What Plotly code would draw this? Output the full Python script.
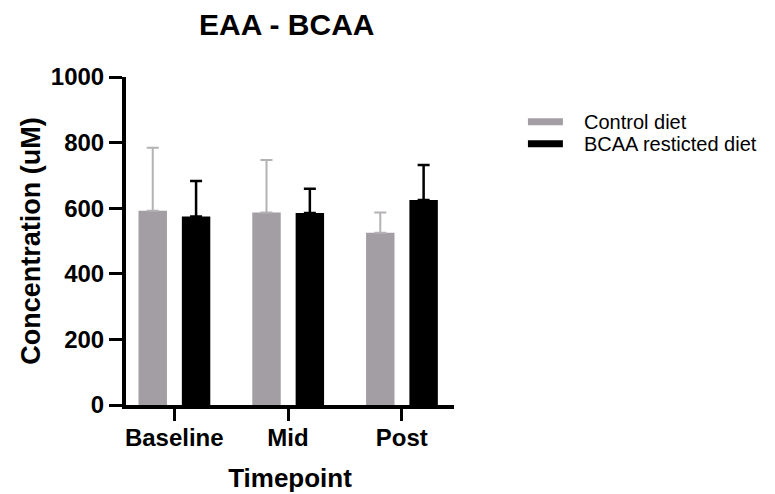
import plotly.graph_objects as go

timepoints = ["Baseline", "Mid", "Post"]
control_mean = [592, 587, 525]
control_err = [192, 160, 62]
bcaa_mean = [575, 585, 625]
bcaa_err = [108, 74, 107]
series_names = ["Control diet", "BCAA resticted diet"]
y_ticks = [0, 200, 400, 600, 800, 1000]

ctrl_color = "#A39EA3"
ctrl_err_color = "#B5B2B5"
bcaa_color = "#000000"
FONT = "Liberation Sans, Arial, sans-serif"

fig = go.Figure()
fig.add_trace(go.Bar(
    x=timepoints, y=control_mean, name=series_names[0], marker_color=ctrl_color,
    marker_line_width=0, showlegend=False, width=0.25, offset=-0.314,
    error_y=dict(type="data", array=control_err, symmetric=False, arrayminus=[0, 0, 0],
                 color=ctrl_err_color, thickness=2, width=6),
))
fig.add_trace(go.Bar(
    x=timepoints, y=bcaa_mean, name=series_names[1], marker_color=bcaa_color,
    marker_line_width=0, showlegend=False, width=0.25, offset=0.067,
    error_y=dict(type="data", array=bcaa_err, symmetric=False, arrayminus=[0, 0, 0],
                 color=bcaa_color, thickness=2.5, width=6),
))

# manual legend (wide rectangular swatches)
L, T, W, H = 125.7, 77.3, 328.3, 328.2
def px(x): return (x - L) / W
def py(y): return (T + H - y) / H
legend_rows = [(series_names[0], ctrl_color, 122), (series_names[1], bcaa_color, 144)]
for nm, col, yc in legend_rows:
    fig.add_shape(type="rect", xref="paper", yref="paper",
                  x0=px(528), x1=px(563), y0=py(yc + 3.5), y1=py(yc - 3.5),
                  fillcolor=col, line_width=0)
    fig.add_annotation(text=nm, xref="paper", yref="paper", x=px(582), y=py(yc),
                       xanchor="left", yanchor="middle", showarrow=False,
                       font=dict(family=FONT, size=20, color="black"))

fig.update_layout(
    width=775, height=494,
    margin=dict(l=L, r=775 - L - W, t=T, b=494 - T - H),
    paper_bgcolor="white", plot_bgcolor="white",
    barmode="overlay",
    title=dict(text="EAA - BCAA", x=0.37, xanchor="center", y=0.95, yanchor="middle",
               font=dict(family=FONT, size=30, color="black", weight="bold")),
    showlegend=False,
    font=dict(family=FONT, color="black"),
)
fig.update_xaxes(
    range=[-0.424, 2.459], showline=True, linecolor="black", linewidth=4,
    ticks="outside", ticklen=12, tickwidth=3, tickcolor="black",
    tickfont=dict(family=FONT, size=24, color="black", weight="bold"),
    ticklabelstandoff=-4,
    title=dict(text="Timepoint", font=dict(family=FONT, size=26, color="black", weight="bold"), standoff=20),
    showgrid=False, zeroline=False, automargin=False,
)
fig.update_yaxes(
    range=[0, 1000], tickvals=y_ticks, showline=True, linecolor="black", linewidth=4,
    ticks="outside", ticklen=13, tickwidth=3, tickcolor="black",
    tickfont=dict(family=FONT, size=24, color="black", weight="bold"),
    title=dict(text="Concentration (uM)", font=dict(family=FONT, size=27, color="black", weight="bold"), standoff=3),
    showgrid=False, zeroline=False, automargin=False,
)
fig.write_html("out.html", config={"displayModeBar": False},
               post_script="document.body.style.margin='0';")
